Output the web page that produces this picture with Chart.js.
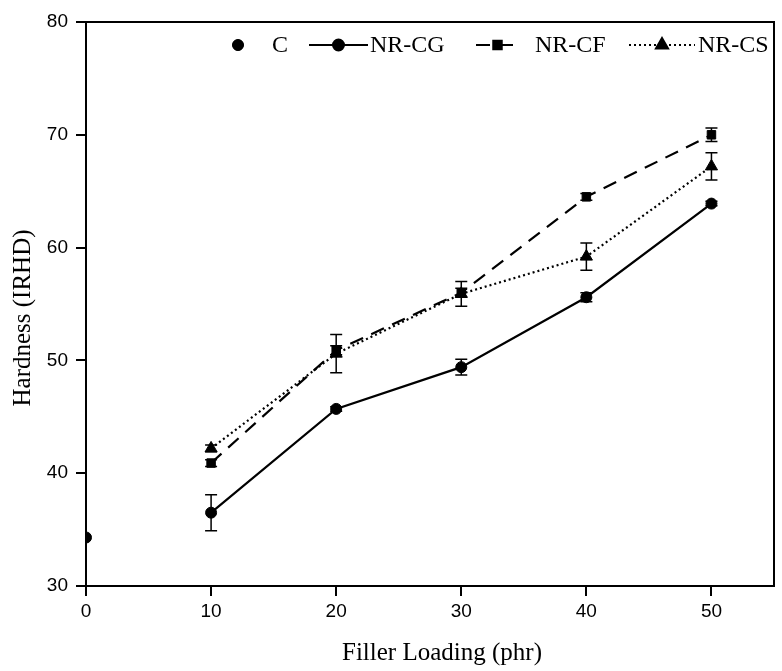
<!DOCTYPE html>
<html>
<head>
<meta charset="UTF-8">
<title>Hardness</title>
<script src="https://cdn.jsdelivr.net/npm/chart.js"></script>
<style>
  html, body { margin: 0; padding: 0; background: #fff; }
  #wrap { width: 782px; height: 671px; }
</style>
</head>
<body>
<div id="wrap"><canvas id="hardChart" width="782" height="671"></canvas></div>
<script>
// data
const loadings = [10, 20, 30, 40, 50];
const controlX = [0];
const controlY = [34.3];
const controlErr = [0];
const cgVals = [36.5, 45.7, 49.4, 55.6, 63.9];
const cgErr  = [1.6, 0.2, 0.7, 0.4, 0.2];
const cfVals = [40.9, 50.9, 56.0, 64.5, 70.0];
const cfErr  = [0.3, 0.4, 0.4, 0.3, 0.6];
const csVals = [42.2, 50.6, 55.9, 59.2, 67.2];
const csErr  = [0.3, 1.7, 1.1, 1.2, 1.2];
const xTicks = [0, 10, 20, 30, 40, 50];
const yTicks = [30, 40, 50, 60, 70, 80];
const xTitle = 'Filler Loading (phr)';
const yTitle = 'Hardness (IRHD)';

const pts = (xs, ys) => xs.map((x, i) => ({ x: x, y: ys[i] }));
const serif = '"Liberation Serif", "Times New Roman", serif';

// error bars, frame box and axis titles
const errorBars = {
  id: 'errorBars',
  afterDatasetsDraw(chart) {
    const ctx = chart.ctx;
    const ys = chart.scales.y, xs = chart.scales.x;
    ctx.save();
    ctx.strokeStyle = '#000';
    ctx.lineWidth = 1.5;
    chart.data.datasets.forEach(ds => {
      if (!ds.err) return;
      ds.data.forEach((p, i) => {
        const e = ds.err[i];
        if (!e) return;
        const px = xs.getPixelForValue(p.x);
        const y1 = ys.getPixelForValue(p.y + e);
        const y2 = ys.getPixelForValue(p.y - e);
        ctx.beginPath();
        ctx.moveTo(px, y1); ctx.lineTo(px, y2);
        ctx.moveTo(px - 6, y1); ctx.lineTo(px + 6, y1);
        ctx.moveTo(px - 6, y2); ctx.lineTo(px + 6, y2);
        ctx.stroke();
      });
    });
    const a = chart.chartArea;
    ctx.lineWidth = 2;
    ctx.beginPath();
    ctx.moveTo(a.left, a.top); ctx.lineTo(a.right, a.top); ctx.lineTo(a.right, a.bottom);
    ctx.stroke();

    ctx.fillStyle = '#000';
    ctx.font = '25px ' + serif;
    ctx.textAlign = 'center';
    ctx.textBaseline = 'middle';
    ctx.fillText(xTitle, (a.left + a.right) / 2 + 12, chart.height - 18);
    ctx.translate(23, (a.top + a.bottom) / 2 + 14);
    ctx.rotate(-Math.PI / 2);
    ctx.fillText(yTitle, 0, 0);
    ctx.restore();
  }
};

// legend drawn as line + marker + label like the original
const lineLegend = {
  id: 'lineLegend',
  afterDraw(chart) {
    const ctx = chart.ctx;
    const a = chart.chartArea;
    const y = a.top + 23;
    const items = [
      { i: 0, x1: a.right - 536, x2: a.right - 536, tx: a.right - 502 },
      { i: 1, x1: a.right - 465, x2: a.right - 406, tx: a.right - 404 },
      { i: 2, x1: a.right - 298, x2: a.right - 255, tx: a.right - 239 },
      { i: 3, x1: a.right - 145, x2: a.right - 79,  tx: a.right - 76 }
    ];
    ctx.save();
    ctx.font = '24px ' + serif;
    ctx.textBaseline = 'middle';
    ctx.fillStyle = '#000';
    items.forEach(it => {
      const ds = chart.data.datasets[it.i];
      if (ds.showLine !== false) {
        ctx.strokeStyle = '#000';
        ctx.lineWidth = 2;
        ctx.setLineDash(ds.borderDash || []);
        ctx.beginPath();
        ctx.moveTo(it.x1, y); ctx.lineTo(it.x2, y);
        ctx.stroke();
        ctx.setLineDash([]);
      }
      const mx = (it.x1 + it.x2) / 2;
      Chart.helpers.drawPoint(ctx, {
        pointStyle: ds.pointStyle, radius: ds.pointRadius, rotation: 0, borderWidth: 1
      }, mx, y);
      ctx.fill();
      ctx.fillText(ds.label, it.tx, y + 1);
    });
    ctx.restore();
  }
};

const common = { borderColor: '#000', backgroundColor: '#000', pointBorderColor: '#000',
  pointBackgroundColor: '#000', borderWidth: 2.2, pointBorderWidth: 1 };

new Chart(document.getElementById('hardChart'), {
  type: 'line',
  data: {
    datasets: [
      Object.assign({ label: 'C', data: pts(controlX, controlY), err: controlErr,
        showLine: false, pointStyle: 'circle', pointRadius: 5.5 }, common),
      Object.assign({ label: 'NR-CG', data: pts(loadings, cgVals), err: cgErr,
        pointStyle: 'circle', pointRadius: 5.5 }, common),
      Object.assign({ label: 'NR-CF', data: pts(loadings, cfVals), err: cfErr,
        pointStyle: 'rect', pointRadius: 6, borderDash: [14, 9] }, common),
      Object.assign({ label: 'NR-CS', data: pts(loadings, csVals), err: csErr,
        pointStyle: 'triangle', pointRadius: 7, borderDash: [2, 3] }, common)
    ]
  },
  options: {
    responsive: false,
    animation: false,
    devicePixelRatio: 1,
    layout: { padding: { top: 22, right: 5, bottom: 0, left: 0 } },
    plugins: { legend: { display: false }, tooltip: { enabled: false } },
    scales: {
      x: {
        type: 'linear', min: 0, max: 55,
        afterFit: s => { s.height = 85; },
        afterBuildTicks: s => { s.ticks = xTicks.map(v => ({ value: v })); },
        grid: { drawOnChartArea: false, drawTicks: true, tickLength: 10, color: '#000', lineWidth: 2 },
        border: { color: '#000', width: 2 },
        ticks: { color: '#000', padding: 4, maxRotation: 0,
          font: { family: '"Liberation Sans", Arial, sans-serif', size: 19 } },
        title: { display: false }
      },
      y: {
        type: 'linear', min: 30, max: 80,
        afterFit: s => { s.width = 86; },
        afterBuildTicks: s => { s.ticks = yTicks.map(v => ({ value: v })); },
        grid: { drawOnChartArea: false, drawTicks: true, tickLength: 10, color: '#000', lineWidth: 2 },
        border: { color: '#000', width: 2 },
        ticks: { color: '#000', padding: 8,
          font: { family: '"Liberation Sans", Arial, sans-serif', size: 19 } },
        title: { display: false }
      }
    }
  },
  plugins: [errorBars, lineLegend]
});
</script>
</body>
</html>
